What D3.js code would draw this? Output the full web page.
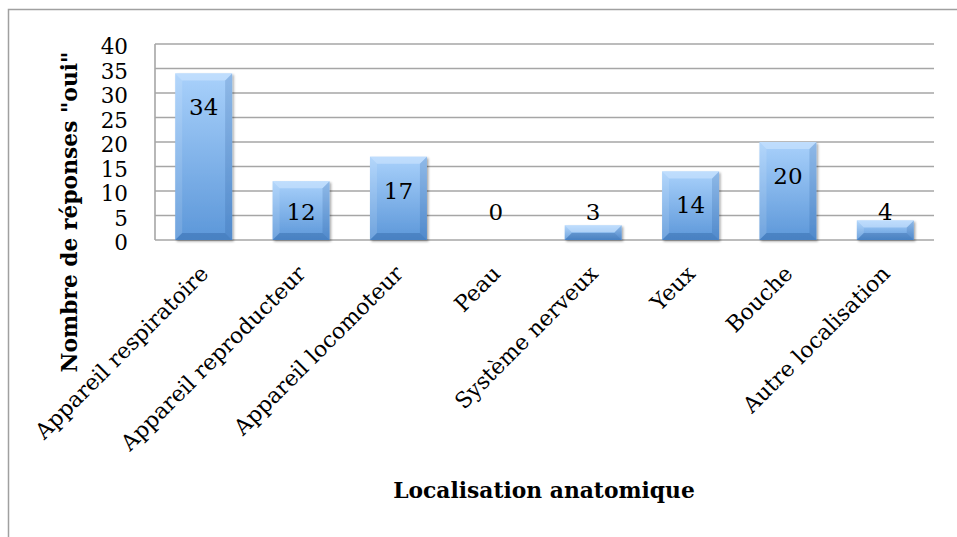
<!DOCTYPE html>
<html><head><meta charset="utf-8">
<script src="https://cdn.jsdelivr.net/npm/d3@7"></script>
<style>body{margin:0;background:#fff}svg{display:block}</style>
</head><body>
<svg id="c" width="957" height="537"></svg>
<script>
const categories = ["Appareil respiratoire","Appareil reproducteur","Appareil locomoteur","Peau","Système nerveux","Yeux","Bouche","Autre localisation"];
const values = [34,12,17,0,3,14,20,4];
const yTicks = [0,5,10,15,20,25,30,35,40];
const yTitle = 'Nombre de réponses "oui"';
const xTitle = "Localisation anatomique";

const FONT = "'DejaVu Serif', 'Liberation Serif', serif";
const svg = d3.select("#c");
const M = {left:155, right:934, top:44, bottom:240};

// outer frame (only top and left visible)
svg.append("rect").attr("x",8.5).attr("y",9.5).attr("width",1200).attr("height",1200)
  .attr("fill","none").attr("stroke","#a0a0a0").attr("stroke-width",1.5);

const x = d3.scaleBand().domain(categories).range([M.left,M.right]).paddingInner(0.415).paddingOuter(0.2075);
const y = d3.scaleLinear().domain([0,40]).range([M.bottom,M.top]);

const defs = svg.append("defs");
const g1 = defs.append("linearGradient").attr("id","bg").attr("x1",0).attr("y1",0).attr("x2",0).attr("y2",1);
g1.append("stop").attr("offset","0%").attr("stop-color","#a9d1fb");
g1.append("stop").attr("offset","100%").attr("stop-color","#5c97d9");
const f = defs.append("filter").attr("id","sh").attr("x","-20%").attr("y","-20%").attr("width","150%").attr("height","150%");
f.append("feDropShadow").attr("dx",1.5).attr("dy",1.5).attr("stdDeviation",1.2).attr("flood-color","#000").attr("flood-opacity",0.35);

// gridlines
svg.append("g").selectAll("line").data(yTicks).join("line")
  .attr("x1",M.left).attr("x2",M.right)
  .attr("y1",d=>y(d)).attr("y2",d=>y(d))
  .attr("stroke","#a6a6a6").attr("stroke-width",1.6);
svg.append("line").attr("x1",M.left).attr("x2",M.left).attr("y1",M.top).attr("y2",M.bottom)
  .attr("stroke","#a6a6a6").attr("stroke-width",1.6);

// y axis
const ya = svg.append("g").attr("transform",`translate(${M.left},0)`)
  .call(d3.axisLeft(y).tickValues(yTicks).tickSize(0).tickPadding(27));
ya.select(".domain").remove();
ya.selectAll("text").attr("font-family",FONT).attr("font-size",21.5).attr("fill","#000").attr("dy","0.46em");

// bars
const bars = svg.append("g").selectAll("g").data(values).join("g").attr("filter","url(#sh)");
bars.each(function(v,i){
  const g = d3.select(this);
  const x0 = x(categories[i]), w = x.bandwidth();
  const y0 = y(v), y1 = y(0), h = y1 - y0;
  if (h <= 0) return;
  const b = Math.min(7, h/2);
  g.append("rect").attr("x",x0).attr("y",y0).attr("width",w).attr("height",h).attr("fill","url(#bg)");
  g.append("polygon").attr("points",[[x0,y0],[x0+w,y0],[x0+w-b,y0+b],[x0+b,y0+b]].join(" "))
    .attr("fill","#d2e7ff").attr("opacity",0.55);
  g.append("polygon").attr("points",[[x0,y0],[x0+b,y0+b],[x0+b,y1-b],[x0,y1]].join(" "))
    .attr("fill","#ffffff").attr("opacity",0.12);
  g.append("polygon").attr("points",[[x0+w,y0],[x0+w,y1],[x0+w-b,y1-b],[x0+w-b,y0+b]].join(" "))
    .attr("fill","#1d4f8f").attr("opacity",0.18);
  g.append("polygon").attr("points",[[x0,y1],[x0+b,y1-b],[x0+w-b,y1-b],[x0+w,y1]].join(" "))
    .attr("fill","#1d4f8f").attr("opacity",0.3);
});

// value labels
svg.append("g").selectAll("text").data(values).join("text")
  .attr("x",(d,i)=>x(categories[i])+x.bandwidth()/2)
  .attr("y",d=>Math.min(y(d)+42, y(0)-20))
  .attr("text-anchor","middle").attr("font-family",FONT).attr("font-size",23).attr("fill","#000")
  .text(d=>d);

// category labels
svg.append("g").selectAll("text").data(categories).join("text")
  .attr("transform",c=>`translate(${x(c)+x.bandwidth()/2+6},${M.bottom+35}) rotate(-45)`)
  .attr("text-anchor","end").attr("font-family",FONT).attr("font-size",22).attr("fill","#000")
  .text(c=>c);

// axis titles
svg.append("text").attr("transform",`translate(77,212) rotate(-90)`)
  .attr("text-anchor","middle").attr("font-family",FONT).attr("font-weight","bold").attr("font-size",21.8)
  .text(yTitle);
svg.append("text").attr("x",544).attr("y",498)
  .attr("text-anchor","middle").attr("font-family",FONT).attr("font-weight","bold").attr("font-size",21.8)
  .text(xTitle);
</script>
</body></html>
